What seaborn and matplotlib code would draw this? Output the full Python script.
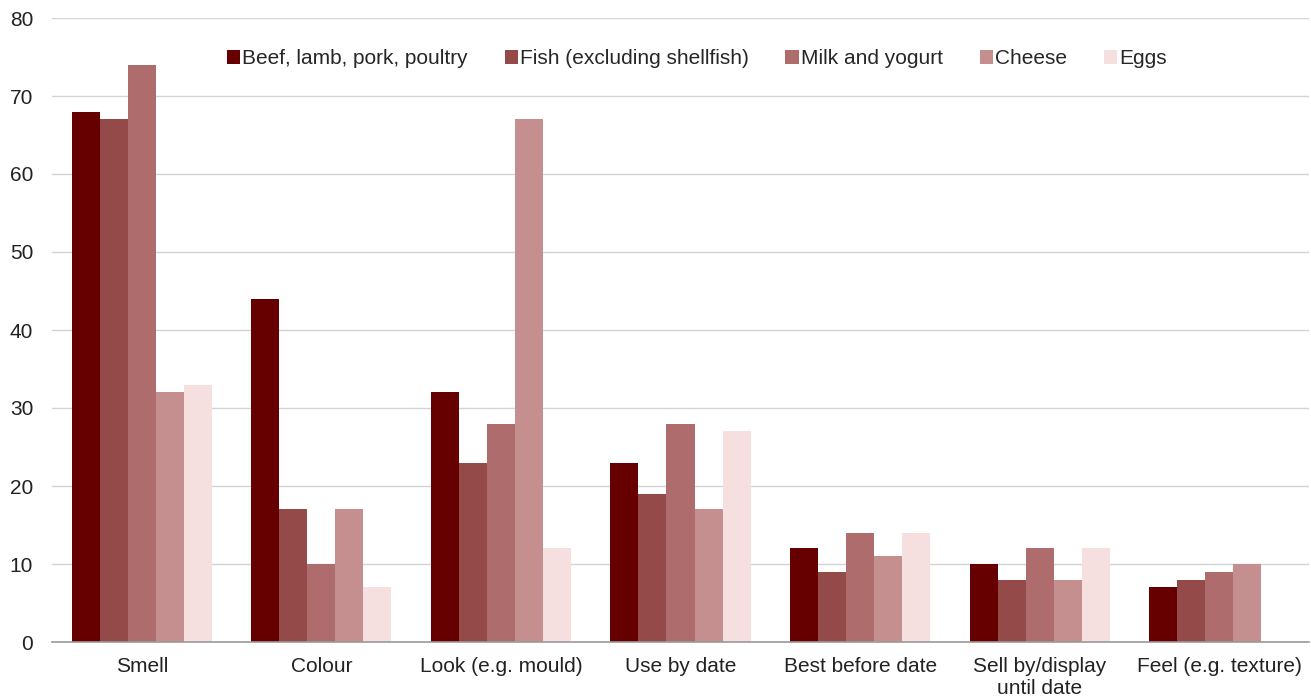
import pandas as pd
import matplotlib.pyplot as plt
import seaborn as sns

# data
categories = ["Smell", "Colour", "Look (e.g. mould)", "Use by date",
              "Best before date", "Sell by/display\nuntil date", "Feel (e.g. texture)"]
series = ["Beef, lamb, pork, poultry", "Fish (excluding shellfish)",
          "Milk and yogurt", "Cheese", "Eggs"]
beef = [68, 44, 32, 23, 12, 10, 7]
fish = [67, 17, 23, 19, 9, 8, 8]
milk = [74, 10, 28, 28, 14, 12, 9]
cheese = [32, 17, 67, 17, 11, 8, 10]
eggs = [33, 7, 12, 27, 14, 12, 0]
colors = ["#660000", "#954a4a", "#ae6c6c", "#c58f8f", "#f5dfdf"]

rows = []
for name, vals in zip(series, [beef, fish, milk, cheese, eggs]):
    for cat, v in zip(categories, vals):
        rows.append({"Category": cat, "Food": name, "Percent": v})
df = pd.DataFrame(rows)

sns.set_style("white")
plt.rcParams["font.family"] = ["Liberation Sans", "DejaVu Sans"]

fig = plt.figure(figsize=(13.11, 6.98), dpi=100)
ax = fig.add_axes([52 / 1311, 56 / 698, 1257 / 1311, 624 / 698])

sns.barplot(data=df, x="Category", y="Percent", hue="Food", order=categories,
            hue_order=series, palette=colors, saturation=1, width=0.78,
            linewidth=0, errorbar=None, ax=ax, zorder=3)

ax.set_ylim(0, 80)
ax.set_yticks(range(0, 81, 10))
ax.set_xlim(-0.5, len(categories) - 0.5)
ax.yaxis.grid(True, color="#d3d3d3", linewidth=1, zorder=0)
ax.set_axisbelow(True)
for s in ["top", "right", "left"]:
    ax.spines[s].set_visible(False)
ax.spines["bottom"].set_color("#999999")
ax.spines["bottom"].set_linewidth(1.2)
ax.spines["bottom"].set_zorder(4)
ax.tick_params(axis="both", length=0, labelsize=15, colors="#222222")
ax.tick_params(axis="y", pad=13.5)
ax.tick_params(axis="x", pad=11)
ax.set_xlabel("")
ax.set_ylabel("")
for lbl in ax.get_xticklabels():
    lbl.set_linespacing(1.2)

ax.legend(loc="upper center", bbox_to_anchor=(0.513, 0.98), ncol=5, frameon=False,
          fontsize=15, handlelength=0.65, handleheight=0.7, handletextpad=0.1,
          columnspacing=1.75)

fig.savefig("out.png", dpi=100)
